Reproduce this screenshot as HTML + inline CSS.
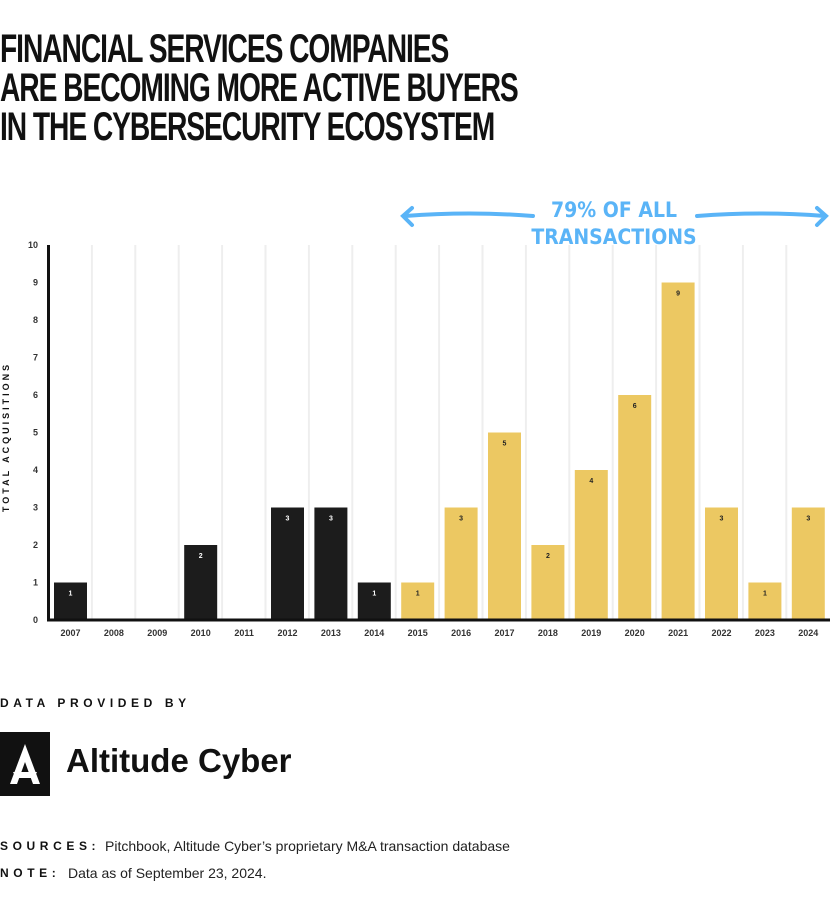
<!DOCTYPE html>
<html><head><meta charset="utf-8"><style>
body{margin:0;width:830px;height:909px;background:#fff;position:relative;overflow:hidden;font-family:"Liberation Sans",sans-serif}
.title{position:absolute;left:0;top:30px;font-family:"Liberation Sans Narrow","Liberation Sans",sans-serif;font-weight:bold;font-size:40px;line-height:39px;letter-spacing:-1.5px;color:#111;transform:scaleX(0.705);transform-origin:left top;white-space:nowrap}
.lbl{position:absolute;font-size:12px;font-weight:bold;letter-spacing:4.6px;color:#111}
.txt{position:absolute;font-size:14px;color:#222}
</style></head><body>
<div class="title">FINANCIAL SERVICES COMPANIES<br>ARE BECOMING MORE ACTIVE BUYERS<br>IN THE CYBERSECURITY ECOSYSTEM</div>
<svg id="chart" width="830" height="660" style="position:absolute;left:0;top:0"></svg>
<div class="lbl" style="left:0;top:696px">DATA PROVIDED BY</div>
<div style="position:absolute;left:0;top:732px;width:50px;height:64px;background:#111">
<svg width="50" height="64"><polygon points="25,12 40,52 33,52 25,30 17,52 10,52" fill="#fff"/><polygon points="13,40 37,40 34,46 16,46" fill="#fff"/><polygon points="22,40 28,40 25,34" fill="#111"/></svg></div>
<div style="position:absolute;left:66px;top:742px;font-size:33px;font-weight:bold;color:#111">Altitude Cyber</div>
<div class="lbl" style="left:0;top:839px">SOURCES:</div>
<div class="txt" style="left:105px;top:838px">Pitchbook, Altitude Cyber’s proprietary M&amp;A transaction database</div>
<div class="lbl" style="left:0;top:866px">NOTE:</div>
<div class="txt" style="left:68px;top:865px">Data as of September 23, 2024.</div>
<script>
const years=["2007","2008","2009","2010","2011","2012","2013","2014","2015","2016","2017","2018","2019","2020","2021","2022","2023","2024"];
const values=[1,0,0,2,0,3,3,1,1,3,5,2,4,6,9,3,1,3];
const yTicks=[0,1,2,3,4,5,6,7,8,9,10];
const NS="http://www.w3.org/2000/svg";
const svg=document.getElementById('chart');
const x0=48.5,slot=43.4,y0=620,yTop=245;
const yS=v=>y0-(v/10)*(y0-yTop);
const xS=i=>x0+i*slot;
function mk(t,a){const e=document.createElementNS(NS,t);for(const k in a)e.setAttribute(k,a[k]);svg.appendChild(e);return e;}
for(let i=1;i<years.length;i++){
 const g=mk('line',{x1:xS(i),x2:xS(i),y1:yTop,y2:y0,stroke:'#eee','stroke-width':2});
 
 
}
yTicks.forEach(v=>{
 const t=mk('text',{x:38,y:yS(v)+3,'text-anchor':'end','font-size':9,'font-weight':'bold',fill:'#333','font-family':'Liberation Sans'});
 t.textContent=v;
 
 
});
values.forEach((v,i)=>{
 const c=i<8?'#1c1c1c':'#ecc862';
 if(v>0){
 const r=mk('rect',{x:xS(i)+5.5,y:yS(v),width:33,height:y0-yS(v),fill:c});
 
 
 const t=mk('text',{x:xS(i)+22,y:yS(v)+13,'text-anchor':'middle','font-size':7,'font-weight':'bold',fill:i<8?'#fff':'#222','font-family':'Liberation Sans'});
 t.textContent=v;
 
 
 }
 const l=mk('text',{x:xS(i)+22,y:636,'text-anchor':'middle','font-size':9,'font-weight':'bold',fill:'#333','font-family':'Liberation Sans'});
 l.textContent=years[i];
 
 
});
const ax=mk('path',{d:`M${x0} ${yTop} V${y0} H830`,stroke:'#111','stroke-width':3,fill:'none'});


const yt=mk('text',{transform:'translate(9,437) rotate(-90)','text-anchor':'middle','font-size':9,'font-weight':'bold','letter-spacing':3,fill:'#111','font-family':'Liberation Sans'});
yt.textContent='TOTAL ACQUISITIONS';


const ar=mk('path',{d:'M405 216 Q470 211 533 216 M697 216 Q760 211 825 216 M412 208 L403 216 L412 225 M817 208 L826 216 L817 225',stroke:'#5ab4f7','stroke-width':4,fill:'none','stroke-linecap':'round'});


const a1=mk('text',{x:614,y:217,'text-anchor':'middle','font-size':21,'font-weight':'bold',fill:'#5ab4f7','font-family':'DejaVu Sans Condensed, DejaVu Sans'});
a1.textContent='79% OF ALL';


const a2=mk('text',{x:614,y:244,'text-anchor':'middle','font-size':21,'font-weight':'bold',fill:'#5ab4f7','font-family':'DejaVu Sans Condensed, DejaVu Sans'});
a2.textContent='TRANSACTIONS';


</script>
</body></html>
